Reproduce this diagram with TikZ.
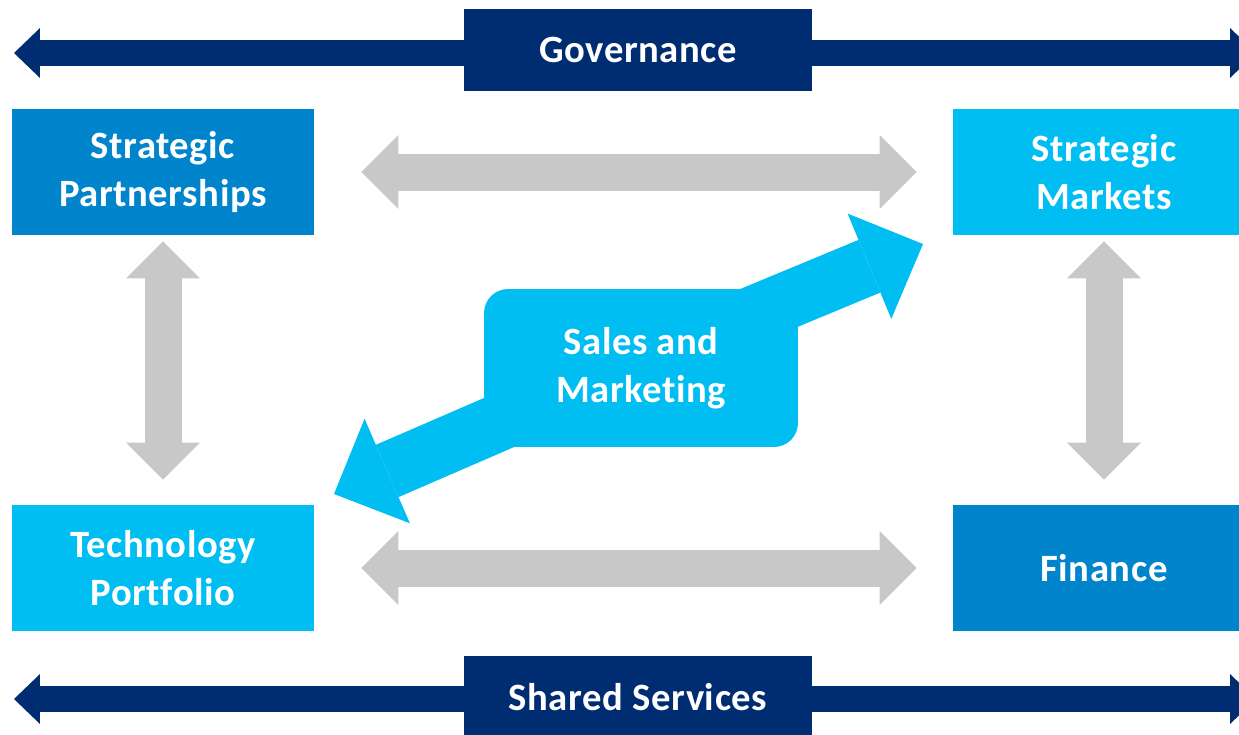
\documentclass[tikz,border=0pt]{standalone}
\usepackage{fontspec}
\setmainfont{Carlito}[Ligatures=NoCommon,LetterSpace=1.5]
\usepackage{tikz}
\definecolor{colorGOV}{RGB}{0,45,114}
\definecolor{colorDEEP}{RGB}{0,133,204}
\definecolor{colorPALE}{RGB}{0,190,242}
\definecolor{colorLINK}{RGB}{200,200,200}
\usetikzlibrary{arrows.meta}
\usetikzlibrary{backgrounds}
\tikzset{
   every node/.style={font=\bfseries\fontsize{22}{27}\selectfont,text=white,align=center},
   tile/.style={rectangle,inner sep=0pt,minimum width=6.04cm,minimum height=2.52cm},
   tileD/.style={tile,fill=colorDEEP},
   tileL/.style={tile,fill=colorPALE},
   band/.style={rectangle,inner sep=0pt,fill=colorGOV,minimum width=6.96cm,minimum height=1.64cm},
   hub/.style={rectangle,inner sep=0pt,rounded corners=0.48cm,fill=colorPALE,minimum width=6.28cm,minimum height=3.16cm},
   spine/.style={-{Triangle[length=0.52cm,width=1.0cm,line width=0pt]},color=colorGOV,line width=0.52cm},
   link/.style={{Triangle[length=0.74cm,width=1.48cm,line width=0pt]}-{Triangle[length=0.74cm,width=1.48cm,line width=0pt]},color=colorLINK,line width=0.74cm},
   reach/.style={-{Triangle[length=1.16cm,width=2.28cm,line width=0pt]},color=colorPALE,line width=1.14cm},
}
\begin{document}
\begin{tikzpicture}[x=0.02cm,y=-0.02cm]

        \useasboundingbox (0,0) rectangle (1239,734);

        \node[band] (gov) at (638,  50) {Governance};
        \node[band] (shs) at (638, 697) {Shared Services};

        \node[tileD] (sp)  at ( 163, 172) {Strategic\\Partnerships};
        \node[tileL] (sm)  at (1104, 172) {Strategic\\Markets};
        \node[tileL] (tp)  at ( 163, 568) {Technology\\Portfolio};
        \node[tileD] (fin) at (1104, 568) {Finance};

        \node[hub] (sales) at (641, 368) {Sales and\\Marketing};

        \coordinate (govL)  at (  14,  53);
        \coordinate (govR)  at (1256,  53);
        \coordinate (shsL)  at (  14, 699);
        \coordinate (shsR)  at (1256, 699);
        \coordinate (smTip) at ( 923, 244);
        \coordinate (tpTip) at ( 334, 494);

        \draw[spine] (gov.west |- govL) -- (govL);
        \draw[spine] (gov.east |- govR) -- (govR);
        \draw[spine] (shs.west |- shsL) -- (shsL);
        \draw[spine] (shs.east |- shsR) -- (shsR);

        \draw[link,shorten <=0.94cm,shorten >=0.72cm] (sp) -- (sm);
        \draw[link,shorten <=0.94cm,shorten >=0.72cm] (tp) -- (fin);
        \draw[link,shorten <=0.12cm,shorten >=0.5cm]  (sp) -- (tp);
        \draw[link,shorten <=0.12cm,shorten >=0.5cm]  (sm) -- (fin);

        \begin{scope}[on background layer]
          \draw[reach] ([yshift=0.14cm]sales.center) -- (smTip);
          \draw[reach] ([yshift=0.14cm]sales.center) -- (tpTip);
        \end{scope}

\end{tikzpicture}
\end{document}
